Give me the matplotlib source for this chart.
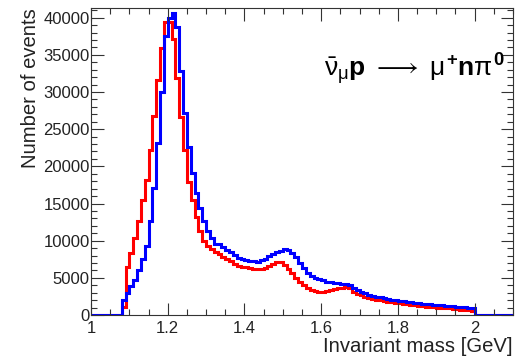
import numpy as np
import matplotlib
matplotlib.use("Agg")
import matplotlib.pyplot as plt
from matplotlib.ticker import MultipleLocator

# histogram binning: 1.0 - 2.1 GeV, 0.01 GeV bins
bin_lo = 1.0
bin_hi = 2.1
n_bins = 110

# red histogram (bins 0..99, rest zero)
red_counts = [0, 0, 0, 0, 0, 0, 0, 0, 1100, 6400,
              8400, 10400, 12700, 15500, 18200, 22200, 26800, 31600, 35900, 39400,
              39400, 37100, 31900, 26700, 22200, 17900, 15500, 13200, 11300, 10000,
              9300, 8900, 8500, 8200, 7800, 7500, 7200, 6900, 6650, 6500,
              6400, 6300, 6200, 6150, 6200, 6350, 6550, 6850, 7150, 7100,
              6750, 6200, 5600, 5000, 4500, 4000, 3600, 3350, 3200, 3150,
              3150, 3230, 3350, 3480, 3600, 3680, 3730, 3650, 3150, 2850,
              2650, 2460, 2300, 2150, 2020, 1950, 1880, 1800, 1720, 1650,
              1580, 1500, 1430, 1370, 1290, 1210, 1160, 1110, 1060, 1020,
              980, 950, 910, 880, 820, 770, 730, 680, 630, 580,
              0, 0, 0, 0, 0, 0, 0, 0, 0, 0]

# blue histogram
blue_counts = [0, 0, 0, 0, 0, 0, 0, 0, 2000, 2900,
               3900, 4700, 6100, 7500, 9300, 12700, 17100, 23100, 30000, 37500,
               40000, 40600, 38700, 32800, 27200, 22600, 19100, 16400, 14400, 12600,
               11300, 10300, 9600, 9500, 9100, 8800, 8500, 8100, 7700, 7500,
               7350, 7250, 7200, 7180, 7350, 7600, 7950, 8200, 8450, 8650,
               8900, 8750, 8400, 7800, 7000, 6300, 5700, 5250, 4950, 4800,
               4650, 4500, 4420, 4350, 4270, 4200, 4130, 4000, 3600, 3300,
               3100, 2920, 2750, 2600, 2460, 2380, 2280, 2180, 2080, 2000,
               1930, 1860, 1800, 1720, 1650, 1580, 1540, 1490, 1440, 1400,
               1350, 1310, 1270, 1230, 1170, 1120, 1070, 1020, 960, 900,
               0, 0, 0, 0, 0, 0, 0, 0, 0, 0]

x_title = "Invariant mass [GeV]"
y_title = "Number of events"
reaction = r"$\bar{\nu}_{\mu}\mathbf{p}\ \longrightarrow\ \mu^{\mathbf{+}}\mathbf{n}\pi^{\mathbf{0}}$"

plt.rcParams['font.family'] = ['Liberation Sans', 'DejaVu Sans']
plt.rcParams['mathtext.fontset'] = 'custom'
plt.rcParams['mathtext.rm'] = 'Liberation Sans'
plt.rcParams['mathtext.it'] = 'Liberation Sans'
plt.rcParams['mathtext.bf'] = 'Liberation Sans:bold'

edges = np.linspace(bin_lo, bin_hi, n_bins + 1)

fig = plt.figure(figsize=(5.24, 3.59), dpi=100)
ax = fig.add_axes([0.1737, 0.1226, 0.8053, 0.855])

ax.stairs(red_counts, edges, color='#ff0000', linewidth=2.2, baseline=None)
ax.stairs(blue_counts, edges, color='#0000ff', linewidth=2.2, baseline=None)

ax.set_xlim(bin_lo, bin_hi)
ax.set_ylim(0, 41300)

ax.xaxis.set_major_locator(MultipleLocator(0.2))
ax.xaxis.set_minor_locator(MultipleLocator(0.05))
ax.yaxis.set_major_locator(MultipleLocator(5000))
ax.yaxis.set_minor_locator(MultipleLocator(1000))
ax.xaxis.set_major_formatter(plt.FuncFormatter(lambda v, p: f"{v:g}"))

tcol = '#333333'
ax.tick_params(which='both', direction='in', top=True, right=True,
               colors=tcol, labelcolor='#222222', labelsize=12)
ax.tick_params(axis='x', which='major', length=9, width=0.8, pad=4)
ax.tick_params(axis='x', which='minor', length=4.5, width=0.8)
ax.tick_params(axis='y', which='major', length=9, width=0.8, pad=1)
ax.tick_params(axis='y', which='minor', length=4.5, width=0.8)
for s in ax.spines.values():
    s.set_color(tcol)
    s.set_linewidth(0.8)

ax.set_xlabel(x_title, fontsize=14.6, color='#222222', loc='right', labelpad=1)
ax.set_ylabel(y_title, fontsize=14.6, color='#222222', loc='top', labelpad=2)

ax.text(0.98, 0.80, reaction, transform=ax.transAxes, ha='right', va='center',
        fontsize=19, color='black')

fig.savefig("out.png", dpi=100)
